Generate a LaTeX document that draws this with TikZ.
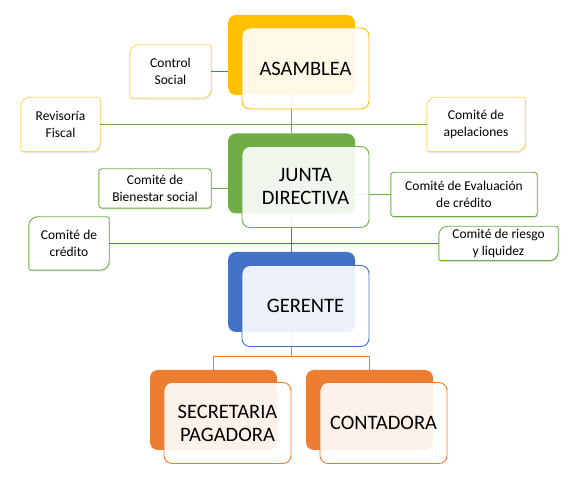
\documentclass[tikz,border=0pt]{standalone}
\usepackage{fontspec}
\setmainfont{Carlito}
\usetikzlibrary{shadows}
\pgfdeclarelayer{l0}
\pgfsetlayers{l0,main}
\definecolor{cgold}{HTML}{FFC000}
\definecolor{cgoldl}{HTML}{FFD966}
\definecolor{cgreen}{HTML}{70AD47}
\definecolor{cblue}{HTML}{4472C4}
\definecolor{corange}{HTML}{ED7D31}
\begin{document}
\begin{tikzpicture}[x=1pt,y=1pt,
 backbox/.style={rectangle, rounded corners=8pt, minimum width=127pt, minimum height=80pt, inner sep=0pt, fill=#1},
 frontbox/.style={rectangle, rounded corners=8pt, minimum width=127pt, minimum height=81pt, inner sep=0pt, draw=#1, line width=0.9pt, fill=white, fill opacity=0.9, text opacity=1, font=\fontsize{20.5}{23}\selectfont, align=center},
 sidetext/.style={rectangle, inner sep=0pt, align=center, font=\fontsize{13.5}{17}\selectfont},
 diag/.style={insert path={([xshift=9pt]#1.north west) -- ([xshift=-2pt]#1.north east) arc[start angle=90,end angle=0,radius=2pt] -- ([yshift=9pt]#1.south east) arc[start angle=0,end angle=-90,radius=9pt] -- ([xshift=2pt]#1.south west) arc[start angle=270,end angle=180,radius=2pt] -- ([yshift=-9pt]#1.north west) arc[start angle=180,end angle=90,radius=9pt] -- cycle}},
 sideframe/.style={draw=#1, line width=0.9pt, fill=white, drop shadow={shadow xshift=1.2pt, shadow yshift=-1.5pt, opacity=0.18}},
 conn/.style={color=#1, line width=1pt}]
\useasboundingbox (0,0) rectangle (573,486);

% side text nodes
\node[sidetext, minimum width=81pt, minimum height=53pt] (cs) at (170.5,414.5) {Control\\Social};
\node[sidetext, minimum width=79pt, minimum height=54pt] (rf) at (60.5,361.5) {Revisoría\\Fiscal};
\node[sidetext, minimum width=98pt, minimum height=54pt] (ap) at (476,361.5) {Comité de\\apelaciones};
\node[sidetext, minimum width=112pt, minimum height=39pt] (bs) at (155,297.5) {Comité de\\Bienestar social};
\node[sidetext, minimum width=146pt, minimum height=44pt] (ev) at (464,291.5) {Comité de Evaluación\\de crédito};
\node[sidetext, minimum width=80pt, minimum height=53pt] (cr) at (69,242.5) {Comité de\\crédito};
\node[sidetext, minimum width=119pt, minimum height=34pt] (rl) at (498.5,242.5) {Comité de riesgo\\y liquidez};

% back boxes and side frames
\begin{pgfonlayer}{l0}
\fill[white] (0,0) rectangle (573,486);
\node[backbox=cgold] (ab) at (291.5,431) {};
\node[backbox=cgreen] (jb) at (291.5,312.5) {};
\node[backbox=cblue] (gb) at (291.5,194) {};
\node[backbox=corange] (sb) at (213.5,76) {};
\node[backbox=corange] (cb) at (369.5,76) {};
\path[sideframe=cgoldl, diag=cs];
\path[sideframe=cgoldl, diag=rf];
\path[sideframe=cgoldl, diag=ap];
\path[sideframe=cgreen, rounded corners=3pt] (bs.south west) rectangle (bs.north east);
\path[sideframe=cgreen, rounded corners=3pt] (ev.south west) rectangle (ev.north east);
\path[sideframe=cgreen, diag=cr];
\path[sideframe=cgreen, diag=rl];
\end{pgfonlayer}

% connectors (drawn before the translucent front boxes)
\draw[conn=cblue] (cs.east) -- (cs.east -| ab.west);
\draw[conn=cgreen] (rf.east) -- (ap.west);
\draw[conn=cgreen] (ab.south) -- (jb.north);
\draw[conn=cgreen] (bs.east) -- (bs.east -| jb.west);
\draw[conn=cgreen] (ev.west -| jb.east) -- (ev.west);
\draw[conn=cblue] (cr.east) -- (cr.east -| rl.west);
\draw[conn=cblue] (jb.south) -- (gb.north);
\coordinate (gj) at (291.5,129.5);
\draw[conn=corange] (gb.south) -- (gj);
\draw[conn=corange] (sb.north) |- (gj) -| (cb.north);

% front boxes
\node[frontbox=cgold] (af) at (305.5,417.5) {ASAMBLEA};
\node[frontbox=cgreen] (jf) at (305.5,299) {JUNTA\\DIRECTIVA};
\node[frontbox=cblue] (gf) at (305.5,180) {GERENTE};
\node[frontbox=corange] (sf) at (227.5,63) {SECRETARIA\\PAGADORA};
\node[frontbox=corange] (cf) at (383.5,63) {CONTADORA};
\end{tikzpicture}
\end{document}
